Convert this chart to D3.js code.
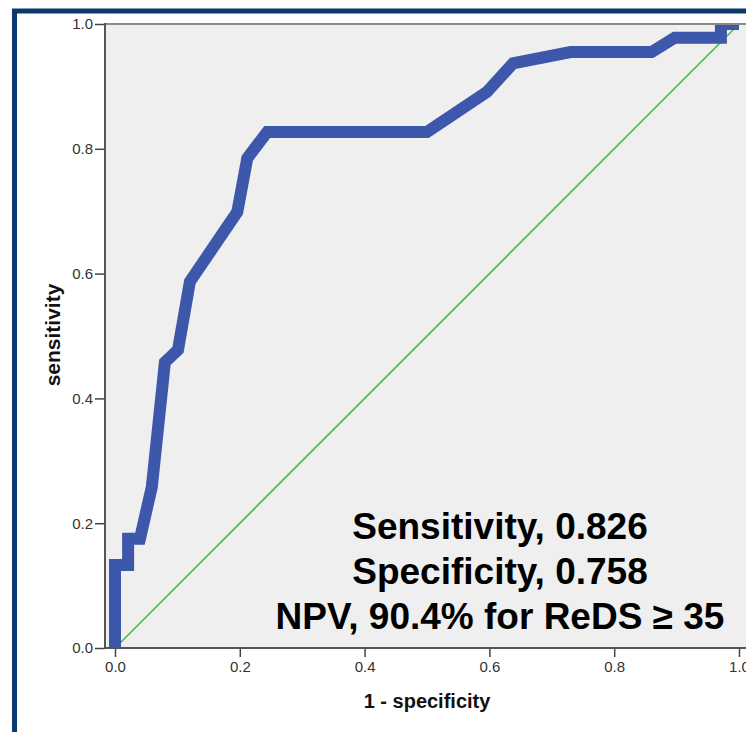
<!DOCTYPE html>
<html>
<head>
  <script src="https://d3js.org/d3.v7.min.js"></script>
  <style>
    body { margin: 0; background: #fff; }
    svg { display: block; font-family: "Liberation Sans", Arial, sans-serif; }
    .axis text { font-size: 15px; fill: #333; }
    .axis line { stroke: #444; stroke-width: 1.5px; }
    .axis path { display: none; }
    .title { font-weight: bold; fill: #111; }
    .note { font-size: 37px; font-weight: bold; fill: #000; }
  </style>
</head>
<body>
  <script>
    // ROC curve (1 - specificity, sensitivity)
    var fpr = [0, 0, 0.021, 0.021, 0.04, 0.059, 0.08, 0.101, 0.12, 0.196, 0.212, 0.244, 0.5, 0.596, 0.638, 0.73, 0.86, 0.897, 0.971, 0.971, 1];
    var tpr = [0, 0.133, 0.133, 0.175, 0.175, 0.258, 0.458, 0.478, 0.587, 0.699, 0.785, 0.827, 0.827, 0.891, 0.937, 0.955, 0.955, 0.978, 0.978, 1, 1];
    var refLine = [0, 1];
    var ticks = [0, 0.2, 0.4, 0.6, 0.8, 1.0];
    var notes = ["Sensitivity, 0.826", "Specificity, 0.758", "NPV, 90.4% for ReDS \u2265 35"];

    var width = 746;
    var height = 732;
    var svg = d3.select("body").append("svg")
        .attr("width", width)
        .attr("height", height);

    // outer frame
    svg.append("rect")
        .attr("x", 14.5).attr("y", 11)
        .attr("width", 800).attr("height", 800)
        .attr("fill", "#fff")
        .attr("stroke", "#0b3a6c")
        .attr("stroke-width", 5);

    var x = d3.scaleLinear().domain([0, 1]).range([115, 739]);
    var y = d3.scaleLinear().domain([0, 1]).range([648, 24]);

    var plotL = 105, plotR = 749, plotT = y(1), plotB = y(0);

    svg.append("rect")
        .attr("x", plotL).attr("y", plotT)
        .attr("width", plotR - plotL).attr("height", plotB - plotT)
        .attr("fill", "#efefef");

    svg.append("clipPath").attr("id", "plot")
      .append("rect")
        .attr("x", plotL).attr("y", plotT)
        .attr("width", plotR - plotL).attr("height", plotB - plotT);

    // reference diagonal
    svg.append("line")
        .attr("clip-path", "url(#plot)")
        .attr("x1", x(refLine[0])).attr("y1", y(refLine[0]))
        .attr("x2", x(refLine[1])).attr("y2", y(refLine[1]))
        .attr("stroke", "#43be4c")
        .attr("stroke-width", 1.6);

    var line = d3.line()
        .x(function(d) { return x(d[0]); })
        .y(function(d) { return y(d[1]); });

    svg.append("path")
        .datum(d3.zip(fpr, tpr))
        .attr("clip-path", "url(#plot)")
        .attr("d", line)
        .attr("fill", "none")
        .attr("stroke", "#3d58ab")
        .attr("stroke-width", 12)
        .attr("stroke-linejoin", "miter");

    // top border of plot
    svg.append("line")
        .attr("x1", plotL).attr("x2", plotR)
        .attr("y1", plotT).attr("y2", plotT)
        .attr("stroke", "#8a8a8a").attr("stroke-width", 2);

    // axes
    var yAxis = d3.axisLeft(y)
        .tickValues(ticks)
        .tickFormat(d3.format(".1f"))
        .tickSize(10)
        .tickPadding(2);
    var xAxis = d3.axisBottom(x)
        .tickValues(ticks)
        .tickFormat(d3.format(".1f"))
        .tickSize(9)
        .tickPadding(4);

    svg.append("g")
        .attr("class", "y axis")
        .attr("transform", "translate(" + plotL + ",0)")
        .call(yAxis);
    svg.append("g")
        .attr("class", "x axis")
        .attr("transform", "translate(0," + plotB + ")")
        .call(xAxis);

    svg.append("line")
        .attr("x1", plotL).attr("x2", plotL)
        .attr("y1", plotT - 1).attr("y2", plotB + 1)
        .attr("stroke", "#555").attr("stroke-width", 2);
    svg.append("line")
        .attr("x1", plotL).attr("x2", plotR)
        .attr("y1", plotB).attr("y2", plotB)
        .attr("stroke", "#555").attr("stroke-width", 2);

    // axis titles
    svg.append("text")
        .attr("class", "title")
        .attr("font-size", 21)
        .attr("transform", "translate(60,335) rotate(-90)")
        .attr("text-anchor", "middle")
        .text("sensitivity");
    svg.append("text")
        .attr("class", "title")
        .attr("font-size", 20)
        .attr("x", 427).attr("y", 708)
        .attr("text-anchor", "middle")
        .text("1 - specificity");

    // annotation
    svg.selectAll(".note")
        .data(notes)
      .enter()
        .append("text")
        .attr("class", "note")
        .attr("x", 500)
        .attr("y", function(d, i) { return 539 + i * 45; })
        .attr("text-anchor", "middle")
        .text(function(d) { return d; });
  </script>
</body>
</html>
